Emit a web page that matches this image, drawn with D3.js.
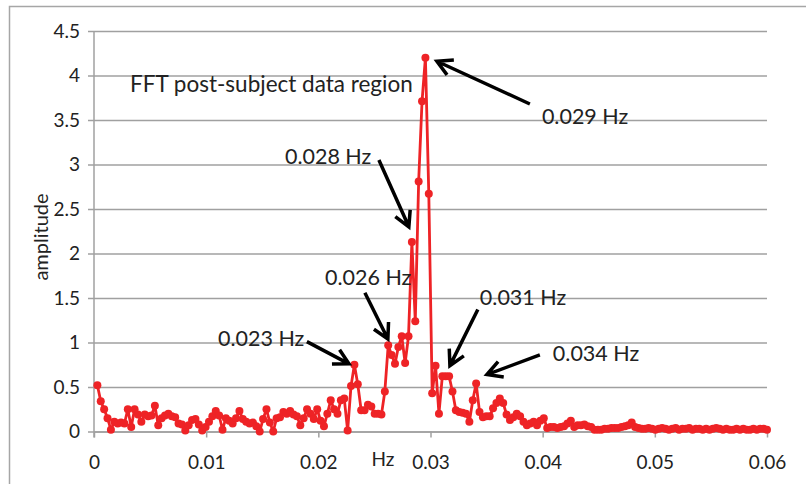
<!DOCTYPE html>
<html>
<head>
<meta charset="utf-8">
<script src="https://cdn.jsdelivr.net/npm/d3@7"></script>
<style>
  body { margin: 0; background: #fff; }
  svg text { font-family: Lato, "Open Sans", sans-serif; fill: #222; }
</style>
</head>
<body>
<div id="chart"></div>
<script>
// FFT bin width in Hz (bins start at one step, DC removed)
var binWidth = 0.0003015;

// amplitude per bin
var amplitudes = [
  0.52, 0.34, 0.25, 0.15, 0.02, 0.11, 0.09, 0.10, 0.09, 0.25,
  0.05, 0.25, 0.19, 0.11, 0.19, 0.17, 0.18, 0.29, 0.07, 0.15,
  0.18, 0.20, 0.17, 0.16, 0.09, 0.08, 0.01, 0.07, 0.13, 0.14,
  0.08, 0.01, 0.05, 0.11, 0.17, 0.23, 0.18, 0.02, 0.15, 0.12,
  0.09, 0.15, 0.23, 0.14, 0.11, 0.09, 0.10, 0.06, 0.00, 0.14,
  0.25, 0.10, 0.00, 0.15, 0.16, 0.22, 0.20, 0.23, 0.19, 0.17,
  0.07, 0.15, 0.25, 0.20, 0.14, 0.25, 0.12, 0.06, 0.20, 0.35,
  0.25, 0.20, 0.35, 0.37, 0.01, 0.51, 0.75, 0.53, 0.24, 0.24,
  0.30, 0.28, 0.20, 0.20, 0.19, 0.45, 0.97, 0.86, 0.76, 0.95,
  1.07, 0.77, 1.07, 2.13, 1.24, 2.81, 3.71, 4.20, 2.67, 0.43,
  0.74, 0.20, 0.62, 0.62, 0.62, 0.45, 0.24, 0.22, 0.21, 0.20,
  0.11, 0.35, 0.54, 0.22, 0.16, 0.17, 0.17, 0.26, 0.32, 0.37,
  0.32, 0.19, 0.13, 0.16, 0.20, 0.17, 0.11, 0.07, 0.09, 0.11,
  0.07, 0.12, 0.15, 0.04, 0.05, 0.05, 0.04, 0.05, 0.06, 0.09,
  0.12, 0.05, 0.07, 0.07, 0.08, 0.06, 0.05, 0.02, 0.02, 0.02,
  0.03, 0.03, 0.04, 0.04, 0.04, 0.05, 0.06, 0.07, 0.10, 0.05,
  0.04, 0.03, 0.03, 0.04, 0.03, 0.02, 0.03, 0.04, 0.03, 0.02,
  0.03, 0.04, 0.02, 0.03, 0.03, 0.04, 0.02, 0.03, 0.03, 0.02,
  0.03, 0.02, 0.03, 0.04, 0.03, 0.02, 0.03, 0.02, 0.02, 0.03,
  0.02, 0.03, 0.02, 0.02, 0.03, 0.02, 0.03, 0.03, 0.02
];

var xTicks = [0, 0.01, 0.02, 0.03, 0.04, 0.05, 0.06];
var xTickLabels = ["0", "0.01", "0.02", "0.03", "0.04", "0.05", "0.06"];
var yTicks = [0, 0.5, 1, 1.5, 2, 2.5, 3, 3.5, 4, 4.5];
var yTickLabels = ["0", "0.5", "1", "1.5", "2", "2.5", "3", "3.5", "4", "4.5"];

// callouts in data units: label spot, arrow tail, arrow tip
var calloutLabels = ["0.029 Hz", "0.028 Hz", "0.026 Hz", "0.023 Hz", "0.031 Hz", "0.034 Hz"];
var calloutText = [[0.03993, 3.54], [0.01702, 3.09], [0.02059, 1.73], [0.01105, 1.05], [0.03440, 1.51], [0.04091, 0.88]];
var calloutTail = [[0.03886, 3.68], [0.02540, 3.05], [0.02415, 1.56], [0.01898, 1.01], [0.03422, 1.37], [0.03975, 0.86]];
var calloutTip = [[0.03057, 4.16], [0.02807, 2.30], [0.02620, 1.04], [0.02273, 0.76], [0.03173, 0.74], [0.03503, 0.64]];

var W = 806, H = 484;
var margin = { top: 31, right: 39, bottom: 52, left: 94 };

var svg = d3.select("#chart").append("svg")
    .attr("width", W)
    .attr("height", H);

// outer chart frame
svg.append("rect")
    .attr("x", 9.5).attr("y", 6.5)
    .attr("width", W).attr("height", H)
    .style("fill", "none")
    .style("stroke", "#a6a6a6")
    .style("stroke-width", 1.5);

var x = d3.scaleLinear().domain([0, 0.06]).range([margin.left, W - margin.right]);
var y = d3.scaleLinear().domain([0, 4.5]).range([H - margin.bottom - 0.5, margin.top]);

var points = amplitudes.map(function(a, i) {
    return { f: (i + 1) * binWidth, a: a };
});

// horizontal gridlines with left tick stubs
var yAxis = d3.axisLeft(y)
    .tickValues(yTicks)
    .tickSize(-(W - margin.right - margin.left))
    .tickSizeOuter(0)
    .tickPadding(14)
    .tickFormat(function(d, i) { return yTickLabels[i]; });

var gy = svg.append("g")
    .attr("transform", "translate(" + margin.left + ",0)")
    .call(yAxis);
gy.select(".domain").remove();
gy.selectAll(".tick line")
    .attr("x1", -6)
    .style("stroke", "#a0a0a0")
    .style("stroke-width", 1.5);
gy.selectAll(".tick text")
    .style("font-size", "19px")
    .style("font-family", "Lato, sans-serif")
    .style("fill", "#222");

// vertical axis line
svg.append("line")
    .attr("x1", margin.left).attr("x2", margin.left)
    .attr("y1", y(4.5)).attr("y2", y(0) + 6)
    .style("stroke", "#a0a0a0")
    .style("stroke-width", 1.5);

var xAxis = d3.axisBottom(x)
    .tickValues(xTicks)
    .tickSize(6)
    .tickSizeOuter(0)
    .tickPadding(18)
    .tickFormat(function(d, i) { return xTickLabels[i]; });

var gx = svg.append("g")
    .attr("transform", "translate(0," + y(0) + ")")
    .call(xAxis);
gx.select(".domain").style("stroke", "#a0a0a0").style("stroke-width", 1.5);
gx.selectAll(".tick line").style("stroke", "#a0a0a0").style("stroke-width", 1.5);
gx.selectAll(".tick text")
    .style("font-size", "19px")
    .style("font-family", "Lato, sans-serif")
    .style("fill", "#222");

// series
var line = d3.line()
    .x(function(d) { return x(d.f); })
    .y(function(d) { return y(d.a); });

svg.append("path")
    .datum(points)
    .attr("d", line)
    .style("fill", "none")
    .style("stroke", "#ee2326")
    .style("stroke-width", 2.8)
    .style("stroke-linejoin", "round");

svg.append("g").selectAll("circle")
    .data(points)
    .enter().append("circle")
    .attr("cx", function(d) { return x(d.f); })
    .attr("cy", function(d) { return y(d.a); })
    .attr("r", 4)
    .style("fill", "#ee2326");

// titles
svg.append("text")
    .attr("x", x(0.00321))
    .attr("y", y(3.9))
    .attr("dy", "0.35em")
    .style("font-size", "22.5px")
    .text("FFT post-subject data region");

svg.append("text")
    .attr("transform", "translate(41," + 237 + ") rotate(-90)")
    .attr("text-anchor", "middle")
    .attr("dy", "0.35em")
    .style("font-size", "20px")
    .text("amplitude");

svg.append("text")
    .attr("x", 383)
    .attr("y", 459)
    .attr("text-anchor", "middle")
    .attr("dy", "0.35em")
    .style("font-size", "19px")
    .text("Hz");

// callouts with open arrowheads
var callouts = calloutLabels.map(function(label, i) {
    return { label: label, text: calloutText[i], tail: calloutTail[i], tip: calloutTip[i] };
});

var cg = svg.append("g").selectAll("g")
    .data(callouts)
    .enter().append("g");

cg.append("text")
    .attr("x", function(d) { return x(d.text[0]); })
    .attr("y", function(d) { return y(d.text[1]); })
    .attr("dy", "0.35em")
    .style("font-size", "21.5px")
    .text(function(d) { return d.label; });

cg.append("path")
    .attr("d", function(d) {
        var x0 = x(d.tail[0]), y0 = y(d.tail[1]);
        var x1 = x(d.tip[0]), y1 = y(d.tip[1]);
        var ang = Math.atan2(y1 - y0, x1 - x0);
        var len = 17, spread = 0.5;
        var ax = x1 - len * Math.cos(ang - spread), ay = y1 - len * Math.sin(ang - spread);
        var bx = x1 - len * Math.cos(ang + spread), by = y1 - len * Math.sin(ang + spread);
        return "M" + x0 + "," + y0 + "L" + x1 + "," + y1 +
            "M" + ax + "," + ay + "L" + x1 + "," + y1 + "L" + bx + "," + by;
    })
    .style("fill", "none")
    .style("stroke", "#000")
    .style("stroke-width", 3.5)
    .style("stroke-linejoin", "miter");
</script>
</body>
</html>
